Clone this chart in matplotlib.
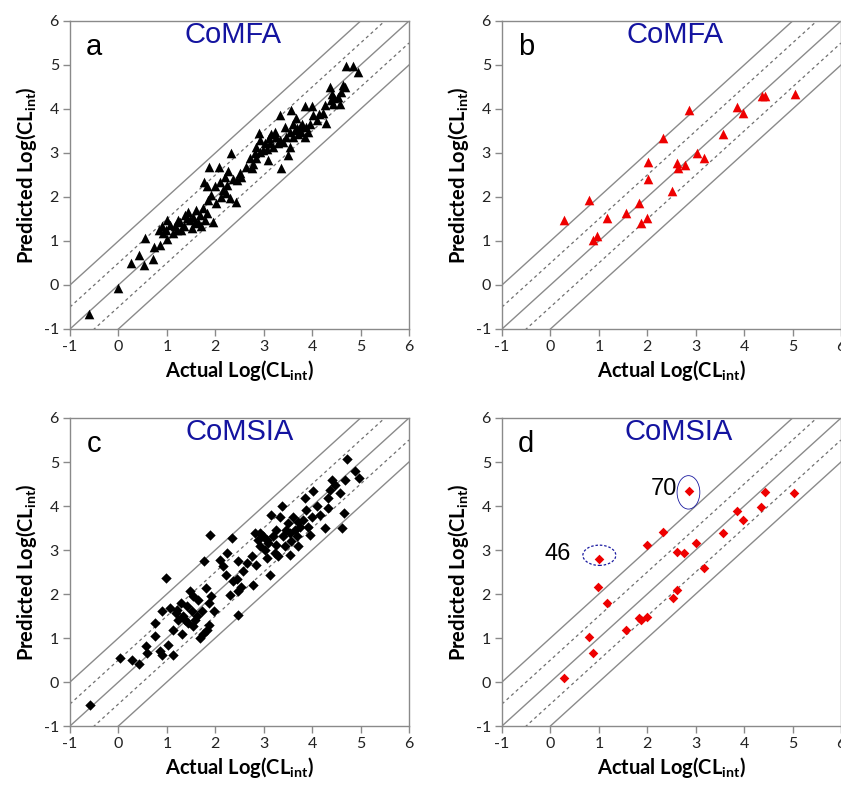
import numpy as np
import matplotlib
matplotlib.use("Agg")
import matplotlib.pyplot as plt
from matplotlib.patches import Ellipse

plt.rcParams['font.family'] = ['Lato', 'DejaVu Sans']
plt.rcParams['mathtext.default'] = 'regular'
plt.rcParams['axes.unicode_minus'] = False

# ---------------- data ----------------
# panel a: CoMFA training set
a_actual = [-0.60, 0.00, 0.25, 0.42, 0.53, 0.55, 0.72, 0.73, 0.86, 0.89, 0.98, 1.01, 1.00, 1.12,
            1.16, 1.23, 1.30, 1.37, 1.44, 1.47, 1.51, 1.54, 1.61, 1.65, 1.68, 1.75, 1.78, 1.82,
            1.85, 1.96, 1.87, 1.76, 1.82, 1.92, 1.99, 2.08, 2.09, 2.16, 2.20, 2.24, 2.26, 2.30,
            2.33, 2.42, 2.44, 2.54, 2.64, 2.71, 2.78, 2.81, 2.85, 2.90, 2.92, 2.99, 3.02, 3.09,
            3.11, 3.16, 3.19, 3.26, 3.30, 3.33, 3.36, 3.40, 3.50, 3.54, 3.57, 3.60, 3.64, 3.67,
            3.71, 3.74, 3.80, 3.85, 3.88, 3.91, 3.85, 4.00, 4.09, 4.14, 4.29, 4.26, 4.36, 4.40,
            4.46, 4.57, 4.60, 4.64, 4.67, 4.69, 4.84, 4.95,
            0.84, 0.92, 1.06, 1.20, 1.28, 1.35, 1.41, 1.58, 1.71, 2.02, 2.11, 2.23, 2.37, 2.51,
            2.75, 2.84, 2.92, 3.06, 3.23, 3.33, 3.43, 3.47, 3.60, 3.69, 3.78, 3.95, 4.02, 4.22,
            4.43, 4.53, 4.38, 3.54, 3.12]
a_pred = [-0.65, -0.07, 0.51, 0.68, 0.46, 1.06, 0.59, 0.87, 0.91, 1.33, 1.25, 1.48, 1.04, 1.18,
          1.33, 1.48, 1.25, 1.59, 1.67, 1.48, 1.29, 1.55, 1.71, 1.44, 1.59, 1.74, 1.48, 1.63,
          1.93, 1.44, 2.69, 2.33, 2.24, 2.05, 2.24, 2.69, 2.35, 2.16, 2.46, 2.27, 2.58, 1.97,
          2.99, 1.89, 2.39, 2.46, 2.69, 2.88, 2.76, 2.99, 3.14, 3.46, 3.29, 3.07, 3.22, 2.84,
          3.33, 3.44, 3.14, 3.37, 3.22, 3.86, 2.65, 3.26, 2.95, 3.14, 3.97, 3.67, 3.52, 3.79,
          3.44, 3.60, 3.67, 3.37, 3.60, 3.48, 4.06, 4.06, 3.75, 3.88, 3.69, 4.09, 4.50, 4.35,
          4.24, 4.12, 4.39, 4.54, 4.50, 4.97, 4.97, 4.84,
          1.25, 1.18, 1.37, 1.25, 1.44, 1.33, 1.52, 1.40, 1.33, 1.86, 2.01, 2.08, 2.42, 2.54,
          2.65, 2.88, 3.03, 3.10, 3.48, 3.29, 3.60, 3.37, 3.37, 3.56, 3.48, 3.67, 3.86, 3.90,
          4.12, 4.27, 4.20, 3.48, 3.22]

# panel b: CoMFA test set
b_actual = [0.29, 0.80, 0.88, 0.97, 1.17, 1.56, 1.83, 1.87, 1.99, 2.01, 2.01, 2.33, 2.52, 2.62,
            2.63, 2.78, 2.87, 3.02, 3.18, 3.57, 3.85, 3.98, 4.36, 4.44, 5.06]
b_pred = [1.48, 1.93, 1.03, 1.12, 1.53, 1.63, 1.86, 1.42, 1.52, 2.40, 2.80, 3.35, 2.14, 2.78,
          2.65, 2.73, 3.97, 3.00, 2.88, 3.44, 4.05, 3.90, 4.30, 4.30, 4.33]

# panel c: CoMSIA training set
c_actual = [-0.58, 0.03, 0.27, 0.43, 0.57, 0.58, 0.76, 0.76, 0.86, 0.89, 0.89, 0.98, 1.03, 1.07,
            1.13, 1.13, 1.19, 1.24, 1.31, 1.34, 1.41, 1.44, 1.48, 1.51, 1.55, 1.58, 1.62, 1.68,
            1.72, 1.75, 1.77, 1.81, 1.82, 1.86, 1.88, 1.89, 1.92, 1.97, 2.10, 2.16, 2.22, 2.25,
            2.30, 2.34, 2.37, 2.44, 2.47, 2.47, 2.47, 2.54, 2.58, 2.65, 2.75, 2.78, 2.82, 2.85,
            2.89, 2.92, 2.99, 3.02, 3.06, 3.09, 3.13, 3.16, 3.20, 3.23, 3.26, 3.30, 3.33, 3.37,
            3.40, 3.44, 3.47, 3.51, 3.54, 3.57, 3.61, 3.64, 3.68, 3.71, 3.75, 3.82, 3.85, 3.88,
            3.92, 3.95, 3.99, 4.02, 4.09, 4.16, 4.26, 4.33, 4.33, 4.36, 4.40, 4.47, 4.57, 4.61,
            4.65, 4.67, 4.72, 4.88, 4.97,
            1.20, 1.29, 1.37, 1.55, 1.65, 2.92, 3.26, 3.54, 3.71, 3.06]
c_pred = [-0.52, 0.55, 0.49, 0.42, 0.81, 0.66, 1.04, 1.34, 0.70, 1.61, 0.62, 2.36, 0.85, 1.68,
          1.19, 0.62, 1.57, 1.42, 1.08, 1.49, 1.72, 1.34, 2.06, 1.61, 1.95, 1.42, 1.49, 1.00,
          1.61, 1.08, 2.74, 2.14, 1.19, 1.80, 1.30, 3.35, 1.95, 1.61, 2.78, 2.63, 2.44, 2.93,
          1.98, 3.27, 2.29, 2.33, 2.74, 2.06, 1.53, 2.17, 2.52, 2.70, 2.87, 2.21, 3.39, 2.67,
          3.23, 3.08, 3.31, 3.01, 2.82, 3.16, 2.44, 3.80, 3.31, 2.93, 3.12, 2.86, 3.76, 3.99,
          3.31, 3.08, 3.46, 3.61, 2.89, 3.20, 3.76, 3.46, 3.31, 3.08, 3.53, 3.69, 4.18, 3.91,
          3.53, 3.35, 3.76, 4.33, 3.99, 3.80, 3.50, 3.95, 4.18, 4.37, 4.60, 4.48, 4.30, 3.50,
          3.84, 4.60, 5.07, 4.80, 4.64,
          1.64, 1.80, 1.42, 1.27, 1.87, 3.39, 3.46, 3.39, 3.64, 3.23]

# panel d: CoMSIA test set
d_actual = [0.29, 0.80, 0.88, 0.98, 1.01, 1.17, 1.57, 1.82, 1.87, 1.99, 1.99, 2.33, 2.53, 2.62,
            2.62, 2.76, 2.87, 3.01, 3.17, 3.57, 3.86, 3.97, 4.34, 4.44, 5.03]
d_pred = [0.08, 1.02, 0.67, 2.15, 2.80, 1.79, 1.18, 1.46, 1.41, 1.48, 3.11, 3.42, 1.92, 2.08,
          2.95, 2.94, 4.33, 3.17, 2.58, 3.38, 3.89, 3.68, 3.98, 4.31, 4.29]

# outliers flagged in panel d: (label, actual, predicted)
d_outliers = [("46", 1.01, 2.80), ("70", 2.87, 4.33)]

TITLE_BLUE = '#1414a0'
LINE_GRAY = '#8a8a8a'


def setup_axes(ax, letter, title, title_x):
    ax.set_xlim(-1, 6)
    ax.set_ylim(-1, 6)
    ax.set_xticks(range(-1, 7))
    ax.set_yticks(range(-1, 7))
    xs = np.array([-1.0, 6.0])
    for off in (-1, 0, 1):
        ax.plot(xs, xs + off, color=LINE_GRAY, lw=1.0, zorder=1)
    for off in (-0.5, 0.5):
        ax.plot(xs, xs + off, color='#707070', lw=0.9, ls=(0, (2.5, 2.5)), zorder=1)
    for sp in ax.spines.values():
        sp.set_color(LINE_GRAY)
        sp.set_linewidth(1.0)
    ax.tick_params(direction='out', length=5, width=1, color=LINE_GRAY,
                   labelsize=11.5, labelcolor='#222222', pad=3)
    ax.set_xlabel('Actual Log(CL$_{int}$)', fontsize=14.5, fontweight='bold', labelpad=3)
    ax.set_ylabel('Predicted Log(CL$_{int}$)', fontsize=14.5, fontweight='bold', labelpad=3)
    ax.text(-0.5, 5.4, letter, fontsize=21, family='Liberation Sans', ha='center', va='center')
    ax.text(title_x, 5.68, title, fontsize=21, family='Liberation Sans', color=TITLE_BLUE,
            ha='center', va='center')


fig = plt.figure(figsize=(8.41, 7.87), dpi=100)
W, H = 841, 787
ax_w, ax_h = 339 / W, 308 / H
ax_a = fig.add_axes([70 / W, (H - 329) / H, ax_w, ax_h])
ax_b = fig.add_axes([502 / W, (H - 329) / H, ax_w, ax_h])
ax_c = fig.add_axes([70 / W, (H - 726) / H, ax_w, ax_h])
ax_d = fig.add_axes([502 / W, (H - 726) / H, ax_w, ax_h])

setup_axes(ax_a, 'a', 'CoMFA', 2.37)
setup_axes(ax_b, 'b', 'CoMFA', 2.58)
setup_axes(ax_c, 'c', 'CoMSIA', 2.5)
setup_axes(ax_d, 'd', 'CoMSIA', 2.65)

ax_a.scatter(a_actual, a_pred, marker='^', s=48, color='black', zorder=3, linewidths=0)
ax_b.scatter(b_actual, b_pred, marker='^', s=48, color='#ee0000', zorder=3, linewidths=0)
ax_c.scatter(c_actual, c_pred, marker='D', s=28, color='black', zorder=3, linewidths=0)
ax_d.scatter(d_actual, d_pred, marker='D', s=24, color='#ee0000', zorder=3, linewidths=0)

# circled outliers in panel d
lab, x46, y46 = d_outliers[0]
ax_d.add_patch(Ellipse((x46, y46 + 0.08), 0.68, 0.46, fill=False, ec='#1a1aa0',
                       lw=0.9, ls=(0, (2, 1.5)), zorder=2))
ax_d.text(x46 - 0.85, y46 + 0.12, lab, fontsize=17, family='Liberation Sans',
          ha='center', va='center')
lab, x70, y70 = d_outliers[1]
ax_d.add_patch(Ellipse((x70 - 0.02, y70 - 0.02), 0.47, 0.76, fill=False, ec='#1a1aa0',
                       lw=0.6, zorder=2))
ax_d.text(x70 - 0.52, y70 + 0.06, lab, fontsize=17, family='Liberation Sans',
          ha='center', va='center')

fig.savefig('out.png', dpi=100, facecolor='white')
